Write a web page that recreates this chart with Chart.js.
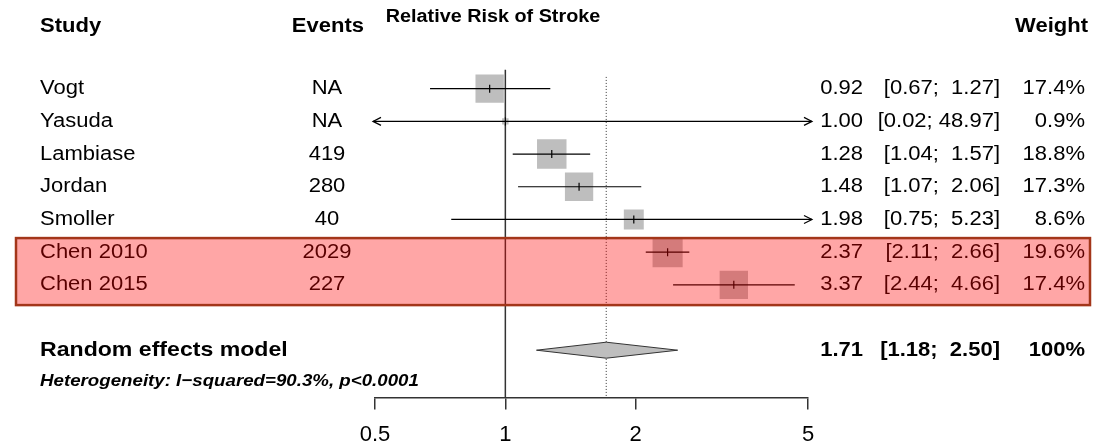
<!DOCTYPE html>
<html lang="en">
<head>
  <meta charset="UTF-8">
  <title>Relative Risk of Stroke</title>
  <script src="https://cdn.jsdelivr.net/npm/chart.js"></script>
  <style>
    body {
      margin: 0;
      background: #fff;
    }

    .chart-container {
      width: 1106px;
      height: 447px;
      position: relative;
    }
  </style>
</head>
<body>
  <div class="chart-container">
    <canvas id="forestChart"></canvas>
  </div>

  <script>
    // Study rows
    const studies = ["Vogt", "Yasuda", "Lambiase", "Jordan", "Smoller", "Chen 2010", "Chen 2015"];
    const events = ["NA", "NA", "419", "280", "40", "2029", "227"];
    const riskRatio = [0.92, 1.00, 1.28, 1.48, 1.98, 2.37, 3.37];
    const ciLower = [0.67, 0.02, 1.04, 1.07, 0.75, 2.11, 2.44];
    const ciUpper = [1.27, 48.97, 1.57, 2.06, 5.23, 2.66, 4.66];
    const weights = [17.4, 0.9, 18.8, 17.3, 8.6, 19.6, 17.4];

    // Pooled estimate (random effects)
    const pooledLabel = "Random effects model";
    const pooledEstimate = 1.71;
    const pooledLower = 1.18;
    const pooledUpper = 2.50;
    const pooledWeight = "100%";
    const heterogeneity = "Heterogeneity: I\u2212squared=90.3%, p<0.0001";

    // Axis ticks and highlighted studies
    const xTicks = [0.5, 1, 2, 5];
    const highlighted = ["Chen 2010", "Chen 2015"];

    const rows = studies.map((s, i) => i + 1);
    const pooledRow = studies.length + 2;

    const FONT = '"Liberation Sans", Arial, Helvetica, sans-serif';
    const STRETCH = 1.1;

    // text is slightly wide, like the old R device output
    function drawText(ctx, text, x, y, align, font, color) {
      ctx.save();
      ctx.translate(x, y);
      ctx.scale(STRETCH, 1);
      ctx.font = font;
      ctx.fillStyle = color || "#000";
      ctx.textAlign = align;
      ctx.textBaseline = "middle";
      ctx.fillText(text, 0, 0);
      ctx.restore();
    }

    function fmt(v) { return v.toFixed(2); }

    const loLen = Math.max(...ciLower.map(v => fmt(v).length));
    const hiLen = Math.max(...ciUpper.map(v => fmt(v).length));
    function ciText(lo, hi) {
      return "[" + fmt(lo).padStart(loLen, " ") + "; " + fmt(hi).padStart(hiLen, " ") + "]";
    }

    function arrowHead(ctx, x, y, dir) {
      ctx.beginPath();
      ctx.moveTo(x - dir * 8, y - 4);
      ctx.lineTo(x, y);
      ctx.lineTo(x - dir * 8, y + 4);
      ctx.stroke();
    }

    const forestPlugin = {
      id: "forest",
      beforeDatasetsDraw(chart) {
        const ctx = chart.ctx;
        const xs = chart.scales.x;
        const ys = chart.scales.y;
        const bottom = chart.chartArea.bottom;

        // line of no effect
        const x1 = xs.getPixelForValue(1);
        ctx.save();
        ctx.strokeStyle = "#333";
        ctx.lineWidth = 1.5;
        ctx.beginPath();
        ctx.moveTo(x1, ys.getPixelForValue(0.42));
        ctx.lineTo(x1, bottom);
        ctx.stroke();

        // pooled estimate, dotted
        const xp = xs.getPixelForValue(pooledEstimate);
        ctx.lineWidth = 1;
        ctx.setLineDash([1, 2]);
        ctx.beginPath();
        ctx.moveTo(xp, ys.getPixelForValue(0.64));
        ctx.lineTo(xp, bottom);
        ctx.stroke();
        ctx.restore();
      },
      afterDatasetsDraw(chart) {
        const ctx = chart.ctx;
        const xs = chart.scales.x;
        const ys = chart.scales.y;
        const xMin = xs.getPixelForValue(xs.min);
        const xMax = xs.getPixelForValue(xs.max);

        ctx.save();
        ctx.strokeStyle = "#000";
        ctx.lineWidth = 1.2;
        studies.forEach((s, i) => {
          const y = ys.getPixelForValue(rows[i]);
          let a = xs.getPixelForValue(ciLower[i]);
          let b = xs.getPixelForValue(ciUpper[i]);
          const leftOut = a < xMin, rightOut = b > xMax;
          if (leftOut) a = xMin - 2;
          if (rightOut) b = xMax + 4;
          ctx.beginPath();
          ctx.moveTo(a, y);
          ctx.lineTo(b, y);
          ctx.stroke();
          if (leftOut) arrowHead(ctx, a, y, -1);
          if (rightOut) arrowHead(ctx, b, y, 1);

          // point estimate mark
          const xe = xs.getPixelForValue(riskRatio[i]);
          ctx.beginPath();
          ctx.moveTo(xe, y - 4);
          ctx.lineTo(xe, y + 4);
          ctx.stroke();
        });

        // pooled diamond
        const yd = ys.getPixelForValue(pooledRow);
        ctx.beginPath();
        ctx.moveTo(xs.getPixelForValue(pooledLower), yd);
        ctx.lineTo(xs.getPixelForValue(pooledEstimate), yd - 8);
        ctx.lineTo(xs.getPixelForValue(pooledUpper), yd);
        ctx.lineTo(xs.getPixelForValue(pooledEstimate), yd + 8);
        ctx.closePath();
        ctx.fillStyle = "#bebebe";
        ctx.fill();
        ctx.strokeStyle = "#333";
        ctx.lineWidth = 1;
        ctx.stroke();
        ctx.restore();
      },
      afterDraw(chart) {
        const ctx = chart.ctx;
        const ys = chart.scales.y;
        const bold = "bold 20px " + FONT;
        const plain = "20px " + FONT;

        // column headers
        const yh = ys.getPixelForValue(-0.9);
        drawText(ctx, "Study", 40, yh, "left", bold);
        drawText(ctx, "Events", 364, yh, "right", bold);
        drawText(ctx, "Relative Risk of Stroke", 493, ys.getPixelForValue(-1.18), "center", "bold 18px " + FONT);
        drawText(ctx, "Weight", 1088, yh, "right", bold);

        studies.forEach((s, i) => {
          const y = ys.getPixelForValue(rows[i]);
          drawText(ctx, s, 40, y, "left", plain);
          drawText(ctx, events[i], 327, y, "center", plain);
          drawText(ctx, fmt(riskRatio[i]), 863, y, "right", plain);
          drawText(ctx, ciText(ciLower[i], ciUpper[i]), 1000, y, "right", plain);
          drawText(ctx, weights[i].toFixed(1) + "%", 1085, y, "right", plain);
        });

        const yp = ys.getPixelForValue(pooledRow);
        drawText(ctx, pooledLabel, 40, yp, "left", "bold 21px " + FONT);
        drawText(ctx, fmt(pooledEstimate), 863, yp, "right", bold);
        drawText(ctx, ciText(pooledLower, pooledUpper), 1000, yp, "right", bold);
        drawText(ctx, pooledWeight, 1085, yp, "right", bold);
        drawText(ctx, heterogeneity, 40, ys.getPixelForValue(pooledRow + 0.95), "left", "italic bold 17px " + FONT);

        // highlight box over the Chen studies
        const hr = highlighted.map(h => rows[studies.indexOf(h)]);
        const top = ys.getPixelForValue(Math.min(...hr) - 0.43);
        const bot = ys.getPixelForValue(Math.max(...hr) + 0.62);
        ctx.save();
        ctx.fillStyle = "rgba(255, 0, 0, 0.35)";
        ctx.fillRect(16, top, 1074, bot - top);
        ctx.strokeStyle = "#a3361a";
        ctx.lineWidth = 2.5;
        ctx.strokeRect(16, top, 1074, bot - top);
        ctx.restore();
      }
    };

    const ctx = document.getElementById("forestChart").getContext("2d");

    new Chart(ctx, {
      type: "scatter",
      data: {
        datasets: [{
          label: "Studies",
          data: studies.map((s, i) => ({ x: riskRatio[i], y: rows[i] })),
          pointStyle: "rect",
          // square area proportional to study weight
          pointRadius: weights.map(w => 6.8 * Math.sqrt(w) / Math.SQRT2),
          pointHoverRadius: weights.map(w => 6.8 * Math.sqrt(w) / Math.SQRT2),
          backgroundColor: "#bebebe",
          borderWidth: 0
        }]
      },
      options: {
        responsive: true,
        maintainAspectRatio: false,
        animation: false,
        layout: {
          padding: { left: 375, right: 298, top: 56, bottom: -13 }
        },
        plugins: {
          legend: { display: false },
          tooltip: { enabled: false }
        },
        scales: {
          x: {
            type: "logarithmic",
            min: 0.5,
            max: 5,
            afterBuildTicks: scale => {
              scale.ticks = xTicks.map(v => ({ value: v }));
            },
            grid: {
              display: true,
              drawOnChartArea: false,
              drawTicks: true,
              tickLength: 12,
              color: "#333",
              lineWidth: 1.5
            },
            border: { display: true, color: "#333", width: 1.5 },
            ticks: {
              color: "#000",
              padding: 12,
              maxRotation: 0,
              autoSkip: false,
              font: { family: FONT, size: 22 },
              callback: value => String(value)
            }
          },
          y: {
            type: "linear",
            display: false,
            reverse: true,
            min: 0,
            max: 10.45
          }
        }
      },
      plugins: [forestPlugin]
    });
  </script>
</body>
</html>
